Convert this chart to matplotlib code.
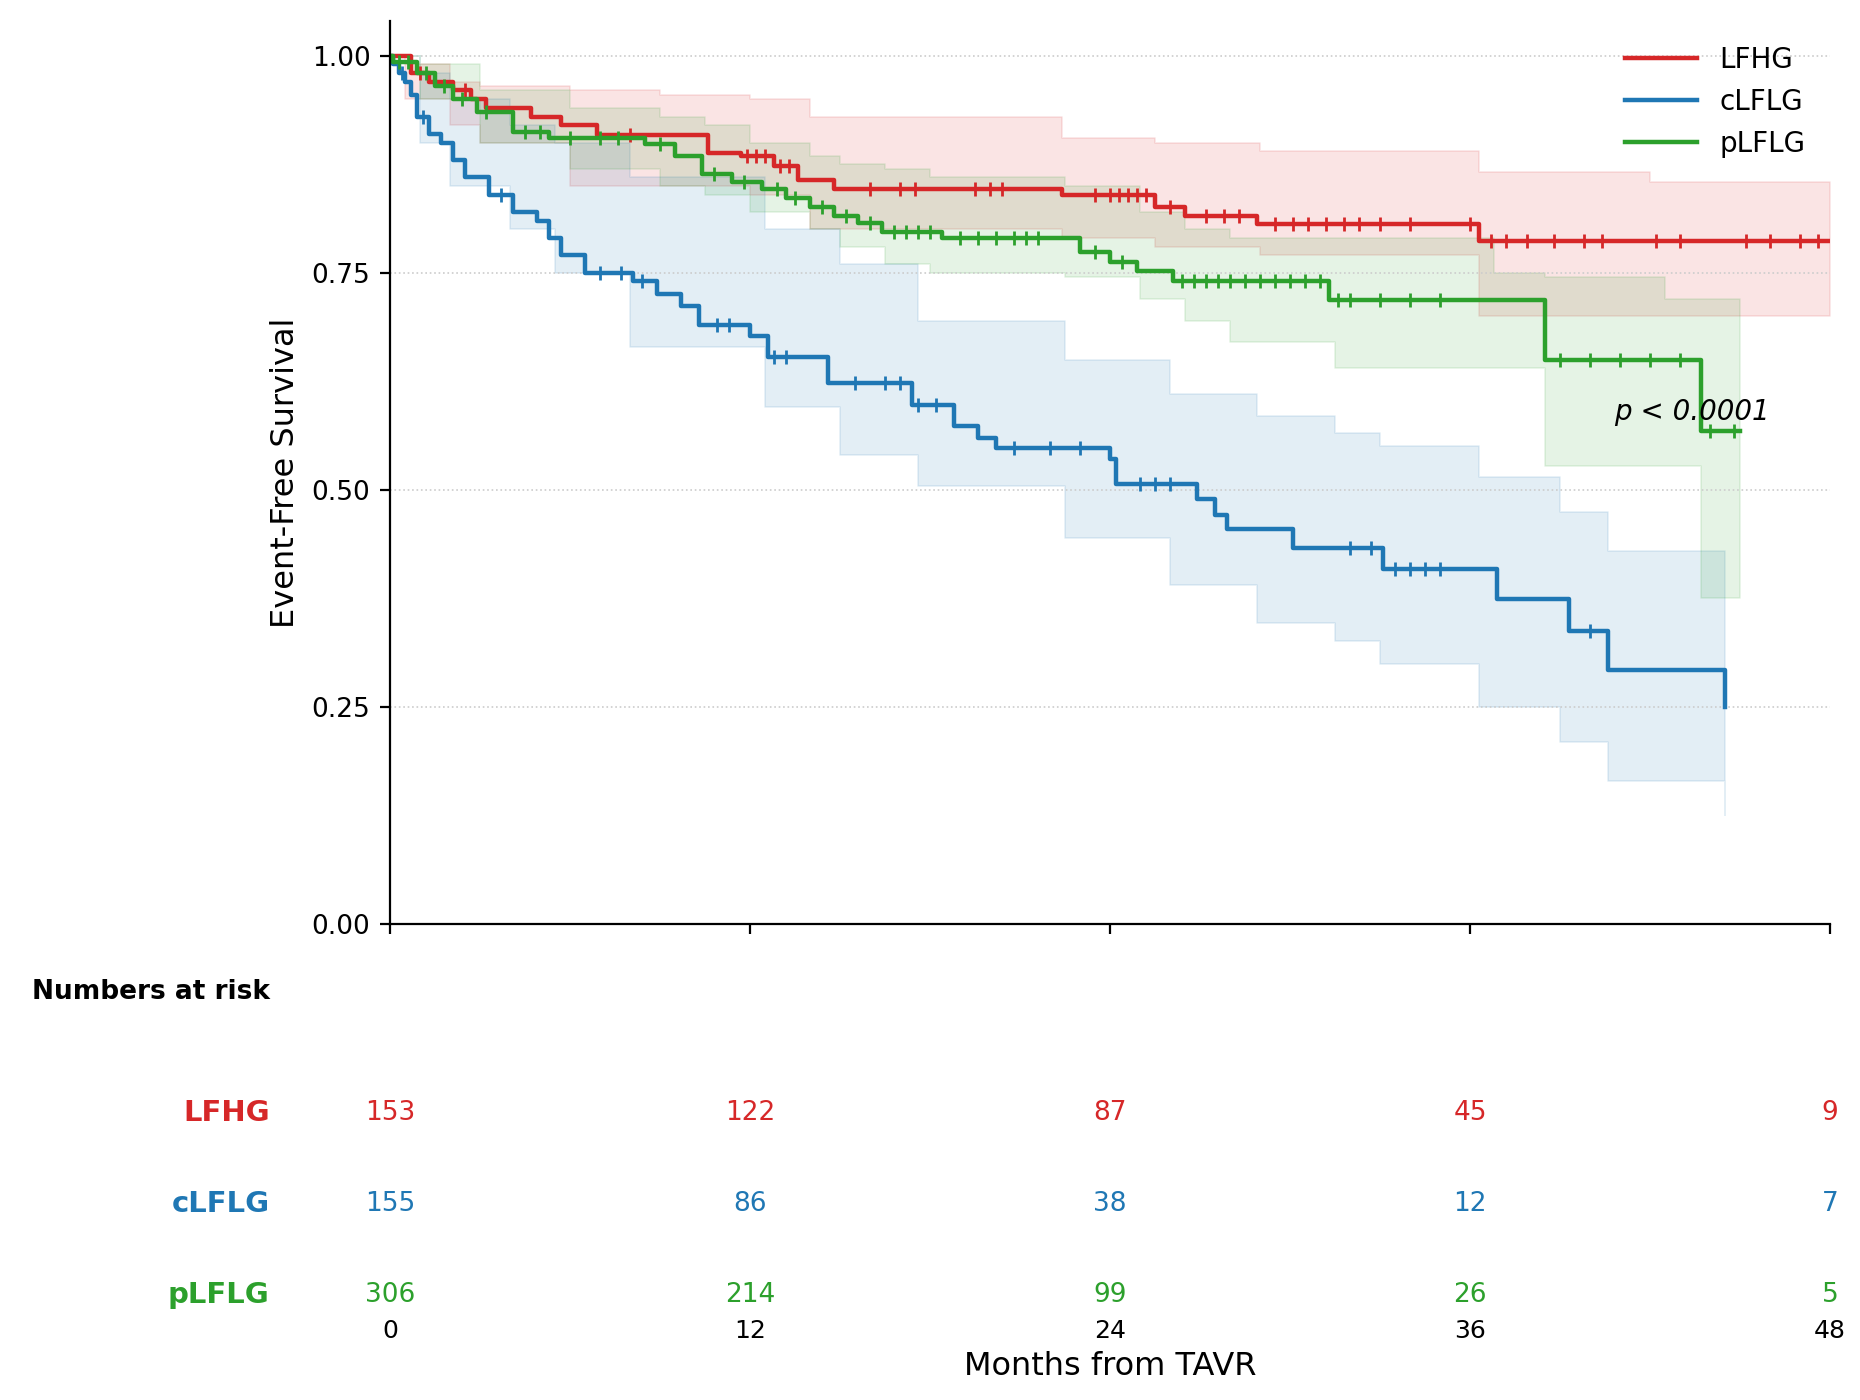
import matplotlib
matplotlib.use("Agg")
import matplotlib.pyplot as plt
import numpy as np

groups = ["LFHG", "cLFLG", "pLFLG"]
colors = ["#d62728", "#1f77b4", "#2ca02c"]

lfhg_t = [0, 0.7, 1.3, 2.1, 2.7, 3.2, 4.7, 5.7, 6.9, 10.6, 11.7, 12.8, 13.6, 14.8, 22.4, 25.5, 26.5, 28.9, 36.3, 48]
lfhg_s = [1.0, 0.98, 0.97, 0.96, 0.95, 0.94, 0.93, 0.92, 0.909, 0.888, 0.884, 0.873, 0.857, 0.847, 0.84, 0.826, 0.815, 0.806, 0.787, 0.787]
clflg_t = [0, 0.12, 0.3, 0.5, 0.7, 0.9, 1.3, 1.7, 2.1, 2.5, 3.3, 4.1, 4.9, 5.3, 5.7, 6.5, 8.1, 8.9, 9.7, 10.3, 12.0, 12.6, 14.6, 17.4, 18.8, 19.6, 20.2, 24.0, 24.2, 26.9, 27.5, 27.9, 30.1, 33.1, 36.9, 39.3, 40.6, 44.5]
clflg_s = [1.0, 0.99, 0.98, 0.97, 0.955, 0.93, 0.91, 0.9, 0.88, 0.86, 0.84, 0.82, 0.81, 0.79, 0.77, 0.75, 0.74, 0.726, 0.712, 0.69, 0.677, 0.653, 0.623, 0.598, 0.574, 0.56, 0.548, 0.535, 0.507, 0.489, 0.471, 0.455, 0.433, 0.409, 0.374, 0.337, 0.292, 0.25]
plflg_t = [0, 0.1, 0.9, 1.5, 2.1, 2.9, 4.1, 5.3, 8.5, 9.5, 10.4, 11.4, 12.4, 13.2, 14.0, 14.8, 15.6, 16.4, 18.4, 23.0, 24.0, 24.9, 26.1, 31.3, 38.5, 43.7, 45.0]
plflg_s = [1.0, 0.993, 0.98, 0.965, 0.95, 0.935, 0.912, 0.905, 0.898, 0.884, 0.864, 0.854, 0.846, 0.836, 0.826, 0.815, 0.807, 0.797, 0.79, 0.774, 0.763, 0.752, 0.74, 0.719, 0.65, 0.568, 0.568]

# confidence bands
lfhg_ci_t = [0, 0.5, 2, 3, 6, 9, 12, 14, 22.4, 25.5, 29, 36.3, 42, 48]
lfhg_lo = [1.0, 0.95, 0.92, 0.9, 0.85, 0.85, 0.84, 0.80, 0.79, 0.78, 0.77, 0.70, 0.70, 0.70]
lfhg_hi = [1.0, 0.99, 0.97, 0.965, 0.96, 0.955, 0.95, 0.93, 0.905, 0.9, 0.89, 0.866, 0.855, 0.855]
clflg_ci_t = [0, 1, 2, 4, 5.5, 8, 12.5, 15, 17.6, 22.5, 26, 28.9, 31.5, 33, 36.3, 39, 40.6, 44.5]
clflg_lo = [1.0, 0.9, 0.85, 0.8, 0.75, 0.664, 0.595, 0.54, 0.505, 0.444, 0.39, 0.347, 0.326, 0.3, 0.25, 0.21, 0.165, 0.125]
clflg_hi = [1.0, 0.98, 0.95, 0.92, 0.9, 0.86, 0.8, 0.76, 0.694, 0.65, 0.61, 0.585, 0.566, 0.55, 0.515, 0.475, 0.43, 0.43]
plflg_ci_t = [0, 1, 3, 6, 9, 10.5, 12, 14, 15, 16.5, 18, 22.5, 25, 26.5, 28, 31.5, 36.8, 38.5, 41, 42.5, 43.7, 45]
plflg_lo = [1.0, 0.95, 0.9, 0.87, 0.85, 0.84, 0.82, 0.8, 0.78, 0.76, 0.75, 0.745, 0.72, 0.694, 0.67, 0.64, 0.64, 0.527, 0.527, 0.527, 0.375, 0.375]
plflg_hi = [1.0, 0.99, 0.96, 0.94, 0.93, 0.92, 0.9, 0.885, 0.875, 0.87, 0.86, 0.85, 0.82, 0.8, 0.79, 0.79, 0.75, 0.745, 0.745, 0.72, 0.72, 0.72]

lfhg_cens = [1.0, 2.5, 8, 11.9, 12.2, 12.5, 13.0, 13.3, 16, 17, 17.5, 19.5, 20, 20.4, 23.5, 24, 24.3, 24.6, 24.9, 25.2, 26.0, 27.2, 27.8, 28.3, 29.5, 30.1, 30.6, 31.2, 31.8, 32.3, 33.0, 34.0, 36.0, 36.7, 37.2, 37.9, 38.8, 39.8, 40.4, 42.2, 43.0, 45.2, 46.0, 47.0, 47.6]
clflg_cens = [0.4, 1.1, 3.7, 7.0, 7.7, 8.4, 10.9, 11.3, 12.8, 13.2, 15.5, 16.5, 17.0, 17.6, 18.2, 20.8, 22.0, 23.0, 25.0, 25.5, 26.0, 32.0, 32.7, 33.5, 34.0, 34.5, 35.0, 40.0]
plflg_cens = [0.3, 0.6, 1.2, 1.8, 2.4, 3.2, 4.5, 5.0, 6.0, 7.0, 7.6, 9.0, 10.8, 11.8, 12.9, 13.5, 14.4, 15.2, 16.0, 16.8, 17.2, 17.6, 18.0, 19.0, 19.6, 20.2, 20.8, 21.2, 21.6, 23.5, 24.4, 26.4, 26.8, 27.2, 27.6, 28.0, 28.5, 29.0, 29.5, 30.0, 30.5, 31.0, 31.6, 32.0, 33.0, 34.0, 35.0, 39.0, 40.0, 41.0, 42.0, 43.0, 44.0, 44.8]

risk_times = [0, 12, 24, 36, 48]
risk_counts = [[153, 122, 87, 45, 9], [155, 86, 38, 12, 7], [306, 214, 99, 26, 5]]

curves = [(lfhg_t, lfhg_s, lfhg_ci_t, lfhg_lo, lfhg_hi, lfhg_cens),
          (clflg_t, clflg_s, clflg_ci_t, clflg_lo, clflg_hi, clflg_cens),
          (plflg_t, plflg_s, plflg_ci_t, plflg_lo, plflg_hi, plflg_cens)]

fig = plt.figure(figsize=(9.3, 7.0), dpi=200)
ax = fig.add_axes([0.2096, 0.340, 0.7744, 0.645])
for g, c, (t, s, ct, lo, hi, cens) in zip(groups, colors, curves):
    ax.fill_between(ct, lo, hi, step="post", color=c, alpha=0.12, linewidth=0.6)
    ax.step(t, s, where="post", color=c, lw=1.6, label=g)
    t_arr = np.array(t); s_arr = np.array(s)
    idx = np.searchsorted(t_arr, cens, side="right") - 1
    ax.plot(cens, s_arr[idx], "|", color=c, ms=5, mew=1.0)

ax.set_xlim(0, 48)
ax.set_ylim(0, 1.04)
ax.set_yticks([0, 0.25, 0.5, 0.75, 1.0])
ax.set_yticklabels(["0.00", "0.25", "0.50", "0.75", "1.00"], fontsize=9.5)
ax.set_xticks(risk_times)
ax.set_xticklabels([])
ax.yaxis.grid(True, ls=":", lw=0.6, color="#cccccc")
for sp in ["top", "right"]:
    ax.spines[sp].set_visible(False)
ax.set_ylabel("Event-Free Survival", fontsize=11.5)
ax.legend(loc="upper right", frameon=False, fontsize=10, handlelength=2.6)
ax.text(40.8, 0.58, "p < 0.0001", style="italic", fontsize=10)

tab = fig.add_axes([0.2096, 0.06, 0.7744, 0.17])
tab.set_xlim(0, 48)
tab.set_ylim(-0.235, 2.38)
for sp in tab.spines.values():
    sp.set_visible(False)
tab.set_yticks([])
tab.set_xticks(risk_times)
tab.set_xticklabels([str(v) for v in risk_times], fontsize=9)
tab.tick_params(axis="x", length=0, pad=1)
tab.set_xlabel("Months from TAVR", fontsize=11.5, labelpad=3)
for row, (g, c, counts) in enumerate(zip(groups, colors, risk_counts)):
    y = 2 - row
    for t, n in zip(risk_times, counts):
        tab.text(t, y, str(n), color=c, ha="center", va="center", fontsize=9.5)
    fig.text(0.145, tab.transData.transform((0, y))[1] / fig.bbox.height, g,
             color=c, ha="right", va="center", fontsize=10.5, weight="bold")
fig.text(0.145, 1 - 829 / 1170, "Numbers at risk", ha="right", va="center", fontsize=9.5, weight="bold")

fig.savefig("out.png")
